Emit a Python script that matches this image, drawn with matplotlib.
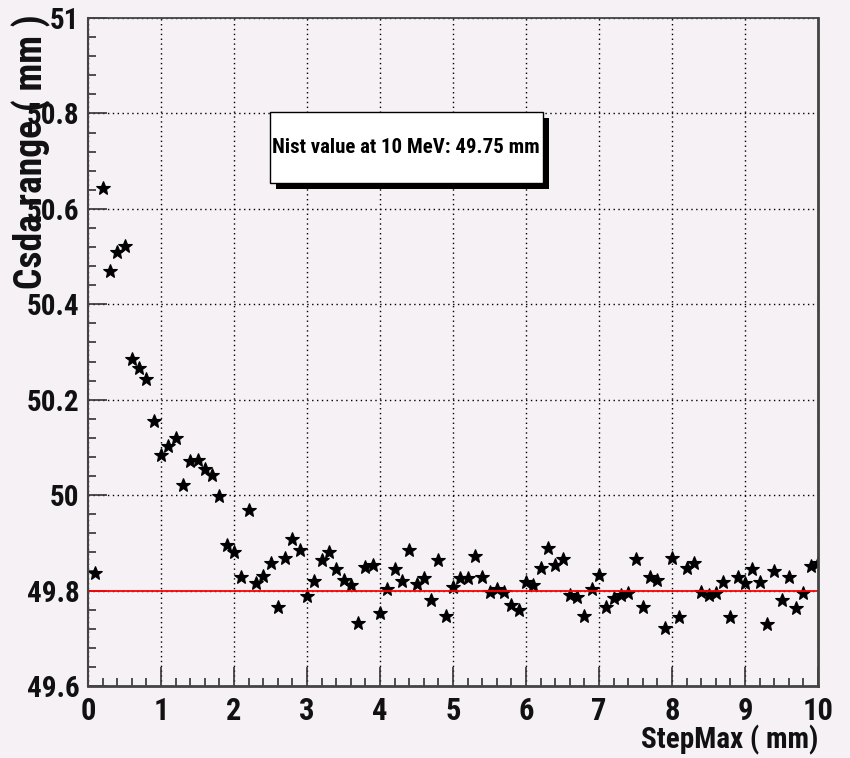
import matplotlib
matplotlib.use('Agg')
import matplotlib.pyplot as plt
from matplotlib import font_manager
from matplotlib.ticker import MultipleLocator
from matplotlib.patches import Rectangle

# StepMax (mm) and CSDA range (mm)
step_max = [0.1, 0.2, 0.3, 0.4, 0.5, 0.6, 0.7, 0.8, 0.9, 1.0,
            1.1, 1.2, 1.3, 1.4, 1.5, 1.6, 1.7, 1.8, 1.9, 2.0,
            2.1, 2.2, 2.3, 2.4, 2.5, 2.6, 2.7, 2.8, 2.9, 3.0,
            3.1, 3.2, 3.3, 3.4, 3.5, 3.6, 3.7, 3.8, 3.9, 4.0,
            4.1, 4.2, 4.3, 4.4, 4.5, 4.6, 4.7, 4.8, 4.9, 5.0,
            5.1, 5.2, 5.3, 5.4, 5.5, 5.6, 5.7, 5.8, 5.9, 6.0,
            6.1, 6.2, 6.3, 6.4, 6.5, 6.6, 6.7, 6.8, 6.9, 7.0,
            7.1, 7.2, 7.3, 7.4, 7.5, 7.6, 7.7, 7.8, 7.9, 8.0,
            8.1, 8.2, 8.3, 8.4, 8.5, 8.6, 8.7, 8.8, 8.9, 9.0,
            9.1, 9.2, 9.3, 9.4, 9.5, 9.6, 9.7, 9.8, 9.9, 10.0]
csda_range = [49.836, 50.643, 50.469, 50.510, 50.522, 50.285, 50.266, 50.244, 50.156, 50.084,
              50.102, 50.119, 50.021, 50.072, 50.074, 50.054, 50.042, 49.998, 49.896, 49.880,
              49.829, 49.969, 49.815, 49.830, 49.858, 49.766, 49.869, 49.908, 49.885, 49.789,
              49.820, 49.864, 49.880, 49.845, 49.822, 49.811, 49.731, 49.850, 49.854, 49.754,
              49.804, 49.845, 49.820, 49.885, 49.814, 49.826, 49.780, 49.864, 49.747, 49.808,
              49.826, 49.826, 49.873, 49.829, 49.798, 49.803, 49.796, 49.770, 49.759, 49.819,
              49.812, 49.847, 49.889, 49.854, 49.866, 49.791, 49.786, 49.747, 49.803, 49.833,
              49.766, 49.784, 49.790, 49.794, 49.866, 49.766, 49.829, 49.822, 49.721, 49.868,
              49.744, 49.847, 49.858, 49.796, 49.790, 49.794, 49.819, 49.745, 49.829, 49.815,
              49.845, 49.819, 49.730, 49.842, 49.780, 49.828, 49.763, 49.794, 49.852, 49.857]
ref_value = 49.8
note = "Nist value at 10 MeV: 49.75 mm"

bg = '#f5f1f5'

# look for a narrow bold face, otherwise use plain Liberation Sans with smaller sizes
narrow = None
for name in ['Liberation Sans Narrow', 'Noto Sans Condensed', 'DejaVu Sans Condensed',
             'Arial Narrow', 'Roboto Condensed']:
    try:
        font_manager.findfont(font_manager.FontProperties(family=name, weight='bold'),
                              fallback_to_default=False)
        narrow = name
        break
    except Exception:
        pass

if narrow:
    tfam = [narrow, 'Liberation Sans', 'DejaVu Sans']
    ysz, xsz, xlsz, notesz, ylsz = 21, 22, 21, 15, 27
else:
    tfam = ['Liberation Sans', 'DejaVu Sans']
    ysz, xsz, xlsz, notesz, ylsz = 17.5, 19, 17, 12.5, 23

fig = plt.figure(figsize=(8.5, 7.58), dpi=100, facecolor=bg)
ax = fig.add_axes([88/850, 72/758, 730/850, 668/758], facecolor=bg)

ax.plot(step_max, csda_range, '*', color='k', markersize=10, markeredgewidth=0.8)
ax.plot([0, 10], [ref_value, ref_value], color='red', lw=1.3)

ax.set_xlim(0, 10)
ax.set_ylim(49.6, 51)
ax.xaxis.set_major_locator(MultipleLocator(1))
ax.xaxis.set_minor_locator(MultipleLocator(0.2))
ax.yaxis.set_major_locator(MultipleLocator(0.2))
ax.yaxis.set_minor_locator(MultipleLocator(0.04))
ax.yaxis.set_major_formatter(plt.FuncFormatter(lambda v, p: ('%.1f' % v).rstrip('0').rstrip('.')))
ax.grid(True, which='major', color='k', linestyle=(0, (1, 2.5)), lw=1.0)

ax.tick_params(which='both', direction='in', top=False, right=False, color='#333333')
ax.tick_params(which='major', length=14, width=1.2)
ax.tick_params(which='minor', length=6, width=1.2)
ax.tick_params(axis='y', pad=6)
ax.tick_params(axis='x', pad=7)
for lab in ax.get_yticklabels():
    lab.set_family(tfam)
    lab.set_fontweight('bold')
    lab.set_fontsize(ysz)
    lab.set_color('#111111')
for lab in ax.get_xticklabels():
    lab.set_family(tfam)
    lab.set_fontweight('bold')
    lab.set_fontsize(xsz)
    lab.set_color('#111111')

for s in ax.spines.values():
    s.set_color('#444444')
    s.set_linewidth(1.3)
ax.spines['right'].set_linewidth(2)
ax.spines['left'].set_linewidth(1.5)
ax.spines['bottom'].set_linewidth(2)

# text box with shadow
bx0, by0, bw, bh = 0.249, 0.753, 0.374, 0.106
ax.add_patch(Rectangle((bx0 + 0.008, by0 - 0.009), bw, bh, transform=ax.transAxes,
                       facecolor='black', edgecolor='none', zorder=5))
ax.add_patch(Rectangle((bx0, by0), bw, bh, transform=ax.transAxes,
                       facecolor='white', edgecolor='black', lw=1, zorder=6))
ax.text(bx0 + bw/2, by0 + bh/2, note, transform=ax.transAxes, ha='center', va='center',
        family=tfam, fontweight='bold', fontsize=notesz, zorder=7)

fig.text(31/850, 1 - 14/758, "Csda range ( mm )", rotation=90, ha='center', va='top',
         family=tfam, fontweight='bold', fontsize=ylsz, color='#111111')
fig.text(818/850, 1 - 740/758, "StepMax ( mm)", ha='right', va='center',
         family=tfam, fontweight='bold', fontsize=xlsz, color='#111111')

fig.savefig('out.png', dpi=100, facecolor=bg)
